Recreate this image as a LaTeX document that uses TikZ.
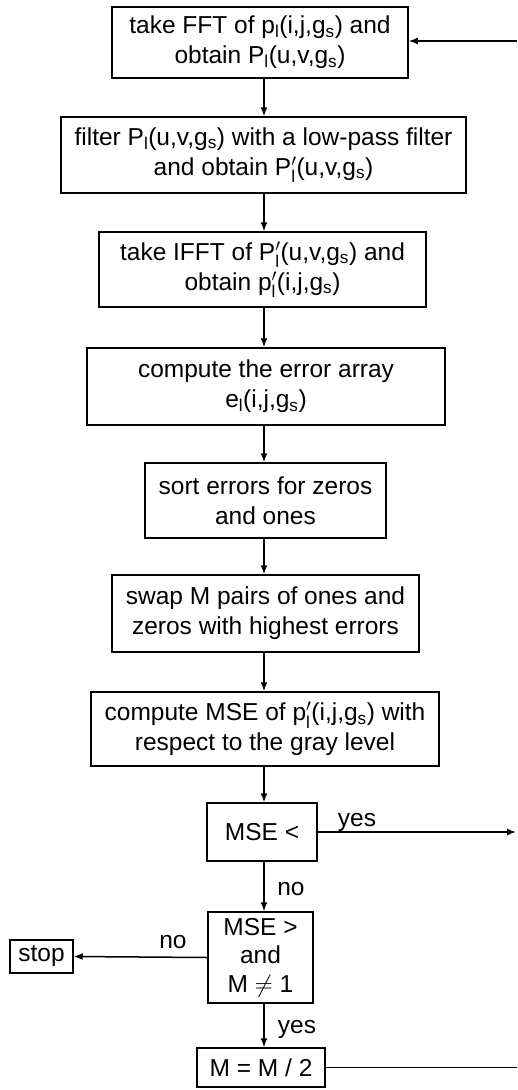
\documentclass[tikz,border=0pt]{standalone}
\usepackage{amsmath}
\usepackage{fontspec}
\setmainfont{Liberation Sans}
\usetikzlibrary{arrows.meta}
% subscripted / primed symbols used in the box texts
\newcommand{\lsub}[1]{#1$_{\text{l}}$}
\newcommand{\lpr}[1]{#1$_{\text{l}}^{\prime}$}
\newcommand{\gsub}{g$_{\text{s}}$}
\begin{document}
\begin{tikzpicture}[x=1pt,y=1pt,
  font=\fontsize{24.5}{30}\selectfont,
  box/.style={draw, line width=1.5pt, inner sep=0pt, align=center},
  arr/.style={line width=1.5pt, -{Latex[length=9pt,width=7pt]}},
  plain/.style={line width=1.5pt},
  lbl/.style={inner sep=0pt, anchor=base}]
\useasboundingbox (0,0) rectangle (517,-1090);

% main column of processing steps
\node[box, minimum width=296pt, minimum height=71pt] (b1) at (260,-42.5)
  {take FFT of \lsub{p}(i,j,\gsub) and\\obtain \lsub{P}(u,v,\gsub)};
\node[box, minimum width=405pt, minimum height=76pt] (b2) at (263.5,-155)
  {filter \lsub{P}(u,v,\gsub) with a low-pass filter\\and obtain \lpr{P}(u,v,\gsub)};
\node[box, minimum width=327pt, minimum height=75pt] (b3) at (262.5,-269.5)
  {take IFFT of \lpr{P}(u,v,\gsub) and\\obtain \lpr{p}(i,j,\gsub)};
\node[box, minimum width=358pt, minimum height=77pt] (b4) at (266,-386.5)
  {compute the error array\\\lsub{e}(i,j,\gsub)};
\node[box, minimum width=241pt, minimum height=75pt] (b5) at (265.5,-500.5)
  {sort errors for zeros\\and ones};
\node[box, minimum width=307pt, minimum height=77pt] (b6) at (265.5,-613.5)
  {swap M pairs of ones and\\zeros with highest errors};
\node[box, minimum width=348pt, minimum height=74pt] (b7) at (265,-729)
  {compute MSE of \lpr{p}(i,j,\gsub) with\\respect to the gray level};

% decisions and end
\node[box, minimum width=110pt, minimum height=58pt] (b8) at (262,-832) {MSE <};
\node[box, minimum width=105pt, minimum height=91pt, font=\fontsize{24.5}{28.5}\selectfont]
  (b9) at (260.5,-957.5) {MSE >\\and\\M $\neq$ 1};
\node[box, minimum width=63pt, minimum height=33pt] (stop) at (41.5,-956.5) {stop};
\node[box, minimum width=128pt, minimum height=39pt] (b10) at (261,-1067.5) {M = M / 2};

% flow axis and loose ends at the right margin
\coordinate (ax) at (264,0);
\coordinate (in1) at (517,-41);
\coordinate (out8) at (516,-832);
\coordinate (out10) at (517,-1067.5);

\draw[arr] (b1.south -| ax) -- (b2.north -| ax);
\draw[arr] (b2.south -| ax) -- (b3.north -| ax);
\draw[arr] (b3.south -| ax) -- (b4.north -| ax);
\draw[arr] (b4.south -| ax) -- (b5.north -| ax);
\draw[arr] (b5.south -| ax) -- (b6.north -| ax);
\draw[arr] (b6.south -| ax) -- (b7.north -| ax);
\draw[arr] (b7.south -| ax) -- (b8.north -| ax);
\draw[arr] (b8.south -| ax) -- (b9.north -| ax);
\draw[arr] (b9.south -| ax) -- (b10.north -| ax);

\draw[arr] (in1) -- (in1 -| b1.east);
\draw[arr] (b8.east) -- (out8);
\draw[arr] (b9.west) -- (stop.east);
\draw[plain] (b10.east) -- (out10);

% branch labels
\node[lbl] (yes1) at (357,-826) {yes};
\node[lbl] (no1) at (291,-895) {no};
\node[lbl] (no2) at (173,-948) {no};
\node[lbl] (yes2) at (297,-1033) {yes};
\end{tikzpicture}
\end{document}
